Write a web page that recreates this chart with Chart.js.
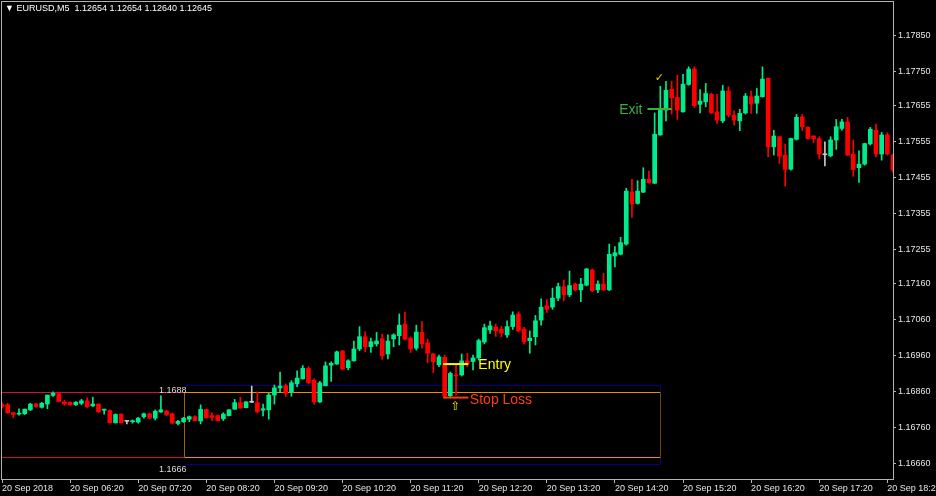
<!DOCTYPE html>
<html>
<head>
<meta charset="utf-8">
<script src="https://cdn.jsdelivr.net/npm/chart.js@4.4.1/dist/chart.umd.min.js"></script>
<style>
html,body{margin:0;padding:0;background:#000;}
canvas{display:block;}
</style>
</head>
<body>
<canvas id="chart" width="936" height="496"></canvas>
<script>
// EURUSD M5, 20 Sep 2018 05:20 .. 18:25, one value per bar
const opens=[
1.16824,1.16824,1.16802,1.16798,1.16799,1.16810,1.16826,1.16817,1.16826,1.16850,
1.16855,1.16832,1.16831,1.16824,1.16828,1.16835,1.16821,1.16826,1.16809,1.16808,
1.16774,1.16798,1.16778,1.16777,1.16776,1.16791,1.16799,1.16787,1.16804,1.16807,
1.16799,1.16772,1.16777,1.16784,1.16791,1.16779,1.16811,1.16794,1.16794,1.16785,
1.16794,1.16812,1.16830,1.16816,1.16831,1.16830,1.16809,1.16810,1.16851,1.16871,
1.16877,1.16860,1.16882,1.16896,1.16925,1.16892,1.16832,1.16877,1.16934,1.16937,
1.16973,1.16927,1.16946,1.16979,1.17013,1.16985,1.16993,1.17007,1.16965,1.17007,
1.17016,1.17048,1.17009,1.16981,1.17025,1.16996,1.16965,1.16935,1.16956,1.16849,
1.16907,1.16907,1.16946,1.16944,1.16954,1.16998,1.17032,1.17040,1.17034,1.17018,
1.17041,1.17076,1.17034,1.17002,1.17013,1.17059,1.17099,1.17095,1.17120,1.17152,
1.17129,1.17159,1.17143,1.17156,1.17198,1.17143,1.17159,1.17143,1.17237,1.17242,
1.17270,1.17415,1.17383,1.17414,1.17450,1.17439,1.17573,1.17642,1.17700,1.17677,
1.17637,1.17713,1.17756,1.17658,1.17665,1.17686,1.17637,1.17612,1.17695,1.17628,
1.17612,1.17634,1.17679,1.17661,1.17679,1.17730,1.17540,1.17568,1.17517,1.17478,
1.17561,1.17623,1.17594,1.17570,1.17563,1.17518,1.17515,1.17559,1.17591,1.17609,
1.17520,1.17482,1.17492,1.17548,1.17586,1.17520,1.17573,1.17517];
const highs=[
1.16829,1.16828,1.16804,1.16813,1.16812,1.16828,1.16828,1.16831,1.16851,1.16860,
1.16857,1.16837,1.16832,1.16833,1.16839,1.16843,1.16845,1.16827,1.16812,1.16810,
1.16799,1.16799,1.16781,1.16782,1.16789,1.16801,1.16801,1.16810,1.16849,1.16808,
1.16801,1.16781,1.16789,1.16793,1.16793,1.16824,1.16812,1.16802,1.16796,1.16802,
1.16811,1.16839,1.16845,1.16833,1.16876,1.16860,1.16826,1.16856,1.16879,1.16915,
1.16882,1.16891,1.16918,1.16933,1.16930,1.16896,1.16889,1.16943,1.16943,1.16973,
1.16975,1.16949,1.17001,1.17041,1.17027,1.17009,1.17025,1.17020,1.17018,1.17021,
1.17076,1.17081,1.17012,1.17045,1.17055,1.17006,1.16967,1.16962,1.16962,1.16915,
1.16935,1.16965,1.16967,1.16962,1.17006,1.17048,1.17056,1.17048,1.17042,1.17057,
1.17082,1.17082,1.17039,1.17029,1.17072,1.17118,1.17116,1.17148,1.17162,1.17170,
1.17195,1.17162,1.17175,1.17203,1.17201,1.17168,1.17189,1.17270,1.17263,1.17289,
1.17425,1.17450,1.17446,1.17482,1.17473,1.17634,1.17708,1.17722,1.17722,1.17739,
1.17741,1.17762,1.17762,1.17699,1.17716,1.17689,1.17686,1.17711,1.17707,1.17640,
1.17644,1.17688,1.17695,1.17702,1.17762,1.17731,1.17586,1.17570,1.17548,1.17564,
1.17630,1.17630,1.17596,1.17571,1.17568,1.17554,1.17568,1.17616,1.17616,1.17622,
1.17559,1.17529,1.17550,1.17594,1.17603,1.17580,1.17579,1.17520];
const lows=[
1.16815,1.16800,1.16788,1.16795,1.16797,1.16808,1.16817,1.16815,1.16813,1.16847,
1.16832,1.16823,1.16822,1.16822,1.16824,1.16817,1.16819,1.16803,1.16798,1.16773,
1.16773,1.16773,1.16771,1.16773,1.16773,1.16787,1.16786,1.16782,1.16803,1.16794,
1.16772,1.16768,1.16775,1.16777,1.16779,1.16771,1.16787,1.16780,1.16779,1.16780,
1.16793,1.16811,1.16814,1.16815,1.16830,1.16801,1.16793,1.16784,1.16826,1.16860,
1.16847,1.16848,1.16874,1.16895,1.16882,1.16826,1.16830,1.16876,1.16889,1.16936,
1.16921,1.16921,1.16945,1.16974,1.16971,1.16969,1.16987,1.16950,1.16951,1.16985,
1.16990,1.17004,1.16969,1.16976,1.16981,1.16941,1.16913,1.16930,1.16845,1.16845,
1.16851,1.16904,1.16930,1.16921,1.16948,1.16993,1.17022,1.17014,1.17013,1.17011,
1.17033,1.17026,1.16993,1.16967,1.16990,1.17045,1.17080,1.17089,1.17113,1.17113,
1.17124,1.17140,1.17110,1.17154,1.17138,1.17135,1.17141,1.17141,1.17207,1.17240,
1.17267,1.17344,1.17381,1.17413,1.17439,1.17438,1.17572,1.17612,1.17631,1.17616,
1.17636,1.17711,1.17649,1.17634,1.17651,1.17633,1.17605,1.17607,1.17623,1.17600,
1.17585,1.17631,1.17633,1.17633,1.17678,1.17512,1.17517,1.17494,1.17431,1.17475,
1.17559,1.17585,1.17561,1.17552,1.17507,1.17487,1.17512,1.17533,1.17586,1.17516,
1.17458,1.17441,1.17489,1.17545,1.17512,1.17503,1.17517,1.17470];
const closes=[
1.16819,1.16802,1.16797,1.16801,1.16812,1.16826,1.16819,1.16828,1.16851,1.16856,
1.16833,1.16826,1.16824,1.16831,1.16835,1.16818,1.16826,1.16804,1.16810,1.16774,
1.16797,1.16774,1.16778,1.16779,1.16787,1.16799,1.16787,1.16806,1.16810,1.16796,
1.16773,1.16778,1.16787,1.16791,1.16780,1.16811,1.16788,1.16789,1.16780,1.16798,
1.16810,1.16830,1.16815,1.16832,1.16831,1.16805,1.16813,1.16851,1.16871,1.16876,
1.16856,1.16885,1.16898,1.16925,1.16885,1.16832,1.16885,1.16932,1.16939,1.16971,
1.16923,1.16946,1.16979,1.17013,1.16985,1.16999,1.17001,1.16960,1.17001,1.17018,
1.17045,1.17006,1.16979,1.17026,1.16993,1.16967,1.16943,1.16957,1.16848,1.16911,
1.16904,1.16946,1.16939,1.16954,1.17002,1.17038,1.17043,1.17029,1.17023,1.17041,
1.17073,1.17029,1.16999,1.17009,1.17057,1.17095,1.17089,1.17120,1.17152,1.17129,
1.17155,1.17143,1.17159,1.17201,1.17141,1.17159,1.17143,1.17242,1.17246,1.17274,
1.17417,1.17381,1.17417,1.17450,1.17440,1.17575,1.17642,1.17697,1.17676,1.17642,
1.17714,1.17756,1.17654,1.17667,1.17688,1.17634,1.17614,1.17695,1.17628,1.17614,
1.17633,1.17681,1.17659,1.17681,1.17728,1.17540,1.17570,1.17514,1.17477,1.17563,
1.17622,1.17596,1.17563,1.17563,1.17520,1.17518,1.17559,1.17596,1.17609,1.17517,
1.17477,1.17492,1.17549,1.17589,1.17520,1.17573,1.17520,1.17475];

const tickLabels=["20 Sep 2018","20 Sep 06:20","20 Sep 07:20","20 Sep 08:20","20 Sep 09:20",
  "20 Sep 10:20","20 Sep 11:20","20 Sep 12:20","20 Sep 13:20","20 Sep 14:20",
  "20 Sep 15:20","20 Sep 16:20","20 Sep 17:20","20 Sep 18:20"];
const priceTicks=[1.17850,1.17750,1.17655,1.17555,1.17455,1.17355,1.17255,
  1.17160,1.17060,1.16960,1.16860,1.16760,1.16660];

// drawn objects
const zoneBars=[32,116];
const blueZone=[1.16880,1.16660];
const orangeZone=[1.16859,1.16680];
const zoneLabels=["1.1688","1.1666"];
const tradeBars=[78,82];
const entryLevel=1.16937;
const stopLevel=1.16844;
const arrowPoint=[80,1.16818];
const exitBars=[114,118];
const exitLevel=1.17645;
const checkPoint=[116,1.17731];

const barTimes=[];
for(let i=0;i<opens.length;i++){
  const m=5*60+20+5*i;
  barTimes.push("20 Sep "+String(Math.floor(m/60)).padStart(2,"0")+":"+String(m%60).padStart(2,"0"));
}

const FONT='"Liberation Sans", "DejaVu Sans", sans-serif';
const AXIS="#b4b4b4";
const bull="#00ec8c", bear="#ff0000", flat="#c8c8c8";
const candleColors=opens.map((o,i)=>closes[i]>o?bull:(closes[i]<o?bear:flat));

function hline(ctx,x0,x1,py,color,w){
  ctx.strokeStyle=color;ctx.lineWidth=w;
  ctx.beginPath();ctx.moveTo(x0,py);ctx.lineTo(x1,py);ctx.stroke();
}
function vline(ctx,px,y0,y1,color){
  ctx.strokeStyle=color;ctx.lineWidth=1;
  ctx.beginPath();ctx.moveTo(px,y0);ctx.lineTo(px,y1);ctx.stroke();
}

const overlay={
  id:"overlay",
  beforeDatasetsDraw(chart){
    const {ctx,chartArea:a,scales:{x,y}}=chart;
    ctx.save();
    ctx.beginPath();ctx.rect(a.left,a.top,a.right-a.left,a.bottom-a.top);ctx.clip();
    const x0=Math.round(x.getPixelForValue(zoneBars[0]))+0.5;
    const x1=Math.round(x.getPixelForValue(zoneBars[1]))+0.5;
    const by=blueZone.map(p=>Math.round(y.getPixelForValue(p))+0.5);
    const oy=orangeZone.map(p=>Math.round(y.getPixelForValue(p))+0.5);
    // navy zone
    by.forEach(py=>hline(ctx,x0,x1,py,"#00008c",1));
    vline(ctx,x1,by[0],by[1],"#00008c");
    // red levels to the left of the zone
    oy.forEach(py=>hline(ctx,a.left,x0,py,"#d0103c",1));
    // orange zone
    oy.forEach(py=>hline(ctx,x0,x1,py,"#f08c00",1));
    vline(ctx,x0,oy[0],oy[1],"#a06010");
    vline(ctx,x1,oy[0],oy[1],"#6a4010");
    ctx.restore();
  },
  afterDatasetsDraw(chart){
    const {ctx,chartArea:a,scales:{x,y}}=chart;
    ctx.save();
    ctx.beginPath();ctx.rect(a.left,a.top,a.right-a.left,a.bottom-a.top);ctx.clip();
    const x0=x.getPixelForValue(zoneBars[0]);
    ctx.font="9px "+FONT;ctx.fillStyle="#dcdcdc";ctx.textAlign="right";ctx.textBaseline="middle";
    ctx.fillText(zoneLabels[0],x0+3,y.getPixelForValue(blueZone[0])+6);
    ctx.fillText(zoneLabels[1],x0+3,y.getPixelForValue(blueZone[1])+6);

    // entry / stop
    const t0=x.getPixelForValue(tradeBars[0])-1.5, t1=x.getPixelForValue(tradeBars[1])+1;
    const ey=y.getPixelForValue(entryLevel), sy=y.getPixelForValue(stopLevel);
    hline(ctx,t0,t1,ey,"#ffff00",2);
    hline(ctx,t0,t1,sy,"#ff3a10",2);
    ctx.font="14px "+FONT;ctx.textAlign="left";
    ctx.fillStyle="#ffff00";ctx.fillText("Entry",t1+10,ey+1);
    ctx.fillStyle="#ff4010";ctx.fillText("Stop Loss",t1+1.5,sy+2.5);
    ctx.font="12px \"DejaVu Sans\"";ctx.textAlign="center";ctx.fillStyle="#f0e000";
    ctx.fillText("\u21e7",x.getPixelForValue(arrowPoint[0])-0.5,y.getPixelForValue(arrowPoint[1]));

    // exit
    const e0=x.getPixelForValue(exitBars[0])-1.5, e1=x.getPixelForValue(exitBars[1]);
    const xy=y.getPixelForValue(exitLevel);
    hline(ctx,e0,e1,xy,"#3fae3f",2);
    ctx.font="14px "+FONT;ctx.textAlign="right";ctx.fillStyle="#3fae3f";
    ctx.fillText("Exit",e0-5,xy+1);
    ctx.font="bold 11px \"DejaVu Sans\"";ctx.textAlign="center";ctx.fillStyle="#f0d000";
    ctx.fillText("\u2713",x.getPixelForValue(checkPoint[0])-1,y.getPixelForValue(checkPoint[1]));
    ctx.restore();
  },
  afterDraw(chart){
    const {ctx,chartArea:a}=chart;
    ctx.save();
    ctx.strokeStyle=AXIS;ctx.lineWidth=1;
    ctx.strokeRect(a.left-0.5,a.top-0.5,a.right-a.left+1,a.bottom-a.top+1);
    ctx.font="9px "+FONT;ctx.fillStyle="#ffffff";ctx.textAlign="left";ctx.textBaseline="middle";
    ctx.fillText("\u25bc EURUSD,M5  1.12654 1.12654 1.12640 1.12645",5,8.5);
    ctx.restore();
  }
};

new Chart(document.getElementById("chart").getContext("2d"),{
  type:"bar",
  data:{
    labels:barTimes,
    datasets:[
      {label:"body",data:opens.map((o,i)=>[o,closes[i]]),backgroundColor:candleColors,
        barThickness:4,minBarLength:1,grouped:false,order:0,clip:0},
      {label:"wick",data:lows.map((l,i)=>[l,highs[i]]),backgroundColor:candleColors,
        barThickness:1,grouped:false,order:1,clip:0}
    ]
  },
  options:{
    responsive:false,animation:false,devicePixelRatio:1,
    layout:{padding:{left:2,top:2,right:0,bottom:0}},
    plugins:{legend:{display:false},tooltip:{enabled:false}},
    scales:{
      x:{
        offset:false,
        grid:{offset:false,drawOnChartArea:false,drawTicks:true,tickLength:4,
          color:c=>c.index%12===0?AXIS:"rgba(0,0,0,0)"},
        border:{display:true,color:AXIS},
        ticks:{autoSkip:false,maxRotation:0,minRotation:0,align:"start",padding:0,
          color:"#e6e6e6",font:{family:FONT,size:9},
          callback:(v,i)=>i%12===0?tickLabels[i/12]:""},
        afterFit:s=>{s.height=17;s.paddingLeft=0;s.paddingRight=0;}
      },
      y:{
        position:"right",min:1.16618,max:1.17942,
        grid:{drawOnChartArea:false,tickLength:3,color:AXIS},
        border:{display:true,color:AXIS},
        ticks:{padding:2,color:"#e6e6e6",font:{family:FONT,size:9},callback:v=>v.toFixed(5)},
        afterBuildTicks:s=>{s.ticks=priceTicks.map(v=>({value:v}));},
        afterFit:s=>{s.width=43;s.paddingTop=0;s.paddingBottom=0;}
      }
    }
  },
  plugins:[overlay]
});
</script>
</body>
</html>
